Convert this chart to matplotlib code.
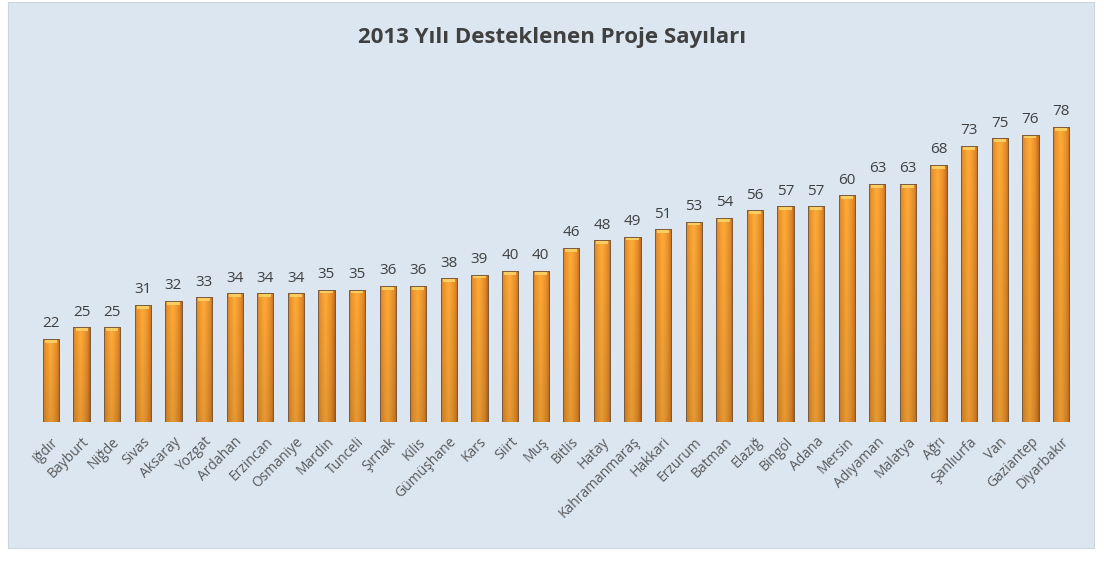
import matplotlib
matplotlib.use("Agg")
import matplotlib.pyplot as plt
import numpy as np
from matplotlib.patches import Rectangle

provinces = ["Iğdır", "Bayburt", "Niğde", "Sivas", "Aksaray", "Yozgat", "Ardahan", "Erzincan",
             "Osmaniye", "Mardin", "Tunceli", "Şırnak", "Kilis", "Gümüşhane", "Kars", "Siirt",
             "Muş", "Bitlis", "Hatay", "Kahramanmaraş", "Hakkari", "Erzurum", "Batman", "Elazığ",
             "Bingöl", "Adana", "Mersin", "Adıyaman", "Malatya", "Ağrı", "Şanlıurfa", "Van",
             "Gaziantep", "Diyarbakır"]
values = [22, 25, 25, 31, 32, 33, 34, 34, 34, 35, 35, 36, 36, 38, 39, 40, 40, 46, 48, 49,
          51, 53, 54, 56, 57, 57, 60, 63, 63, 68, 73, 75, 76, 78]
title = "2013 Yılı Desteklenen Proje Sayıları"

plt.rcParams['font.family'] = ['Open Sans', 'DejaVu Sans']

W, H = 1104, 563
fig = plt.figure(figsize=(W / 100, H / 100), dpi=100)
fig.patch.set_facecolor("white")
# chart background panel
bg = fig.add_axes([8 / W, 15 / H, (1094 - 8) / W, (561 - 15) / H], zorder=-5)
bg.set_facecolor("#dce6f1")
bg.set_xticks([]); bg.set_yticks([])
for s in bg.spines.values():
    s.set_color("#cdd5dd")
    s.set_linewidth(0.8)

n = len(values)
left_px, right_px = 35.7, 1076.3
bottom_px = 422
ymax = 90
scale = (422 - 127) / 78
top_px = bottom_px - ymax * scale
ax = fig.add_axes([left_px / W, 1 - bottom_px / H, (right_px - left_px) / W, (bottom_px - top_px) / H])
ax.set_facecolor("none")
for s in ax.spines.values():
    s.set_visible(False)
ax.tick_params(axis='both', length=0)
ax.set_yticks([])

x = np.arange(n)
bw = 0.53
bars = ax.bar(x, values, width=bw, color="#f39a2a", edgecolor="#7a5a40", linewidth=0.6, zorder=2)

# cylinder-like gradient (horizontal profile, slightly darker toward the base)
nx, ny = 48, 64
gx = np.linspace(0, 1, nx)
prof = np.clip(1 - np.abs(gx - 0.45) * 2.0, 0, 1) ** 0.5
c_dark = np.array([0.78, 0.42, 0.10])
c_light = np.array([1.0, 0.67, 0.22])
row = c_dark[None, :] * (1 - prof[:, None]) + c_light[None, :] * prof[:, None]
gy = np.linspace(0, 1, ny)  # 0 = top, 1 = bottom
vshade = 1 - 0.10 * gy
img = np.ones((ny, nx, 4))
img[:, :, :3] = row[None, :, :] * vshade[:, None, None]

for xi, v, b in zip(x, values, bars):
    im = ax.imshow(img, extent=(xi - bw / 2, xi + bw / 2, 0, v), aspect='auto',
                   zorder=3, interpolation='bilinear')
    im.set_clip_path(b)
    # yellow highlight at top
    ax.add_patch(Rectangle((xi - bw / 2 * 0.75, v - 1.0), bw * 0.75, 0.9,
                           facecolor="#fcd66a", edgecolor="none", alpha=0.85, zorder=3.5))
    ax.add_patch(Rectangle((xi - bw / 2, 0), bw, v, fill=False, edgecolor="#7a5a40",
                           lw=0.7, zorder=4))
    ax.text(xi, v + 2.0, str(v), ha='center', va='bottom', fontsize=11, color="#404040",
            zorder=5)
ax.set_xlim(-0.5, n - 0.5)
ax.set_ylim(0, ymax)

ax.set_xticks(x)
ax.set_xticklabels(provinces, rotation=45, ha='right', va='top', rotation_mode='anchor',
                   fontsize=10, color="#595959")
ax.tick_params(axis='x', pad=9)

fig.text(0.5, 1 - 37 / H, title, ha='center', va='center', fontsize=16, fontweight='bold',
         color="#404040")

fig.savefig("out.png", dpi=100)
